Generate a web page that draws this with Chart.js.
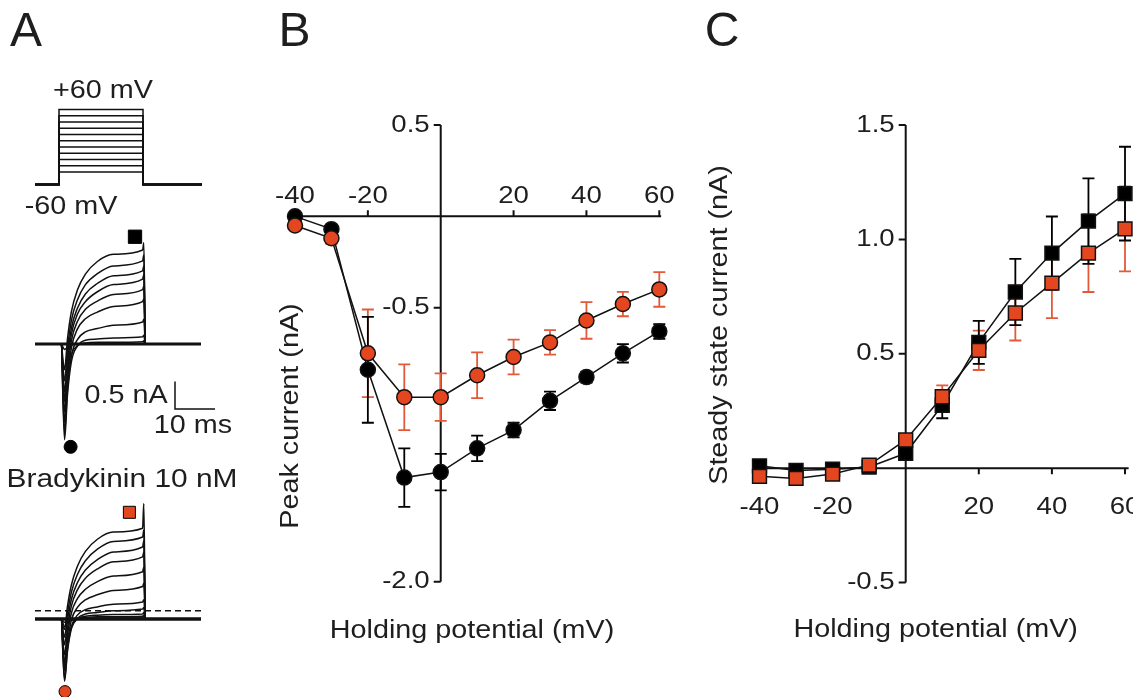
<!DOCTYPE html>
<html>
<head>
<meta charset="utf-8">
<script src="https://cdn.jsdelivr.net/npm/chart.js@4.4.1/dist/chart.umd.min.js"></script>
<style>
  html, body { margin: 0; padding: 0; background: #fff; }
  #wrap { position: relative; width: 1133px; height: 697px; overflow: hidden; }
  canvas { position: absolute; top: 0; }
</style>
</head>
<body>
<div id="wrap">
  <canvas id="chartA" width="250" height="697" style="left:0px"></canvas>
  <canvas id="chartB" width="430" height="697" style="left:270px"></canvas>
  <canvas id="chartC" width="433" height="697" style="left:700px"></canvas>
</div>
<script>
// ---- data ----
const voltages = [-40, -30, -20, -10, 0, 10, 20, 30, 40, 50, 60];

// B : peak current (nA)
const peakControl    = [0.00, -0.07, -0.84, -1.43, -1.40, -1.27, -1.17, -1.01, -0.88, -0.75, -0.63];
const peakControlErr = [0.01, 0.02, 0.29, 0.16, 0.10, 0.07, 0.04, 0.05, 0.03, 0.05, 0.04];
const peakBk         = [-0.05, -0.12, -0.75, -0.99, -0.99, -0.87, -0.77, -0.69, -0.57, -0.48, -0.40];
const peakBkErr      = [0.01, 0.03, 0.24, 0.18, 0.13, 0.125, 0.095, 0.067, 0.10, 0.067, 0.095];

// C : steady state current (nA)
const steadyControl    = [0.01, -0.01, -0.005, 0.005, 0.065, 0.275, 0.55, 0.77, 0.94, 1.08, 1.20];
const steadyControlErr = [0.01, 0.01, 0.01, 0.01, 0.03, 0.057, 0.094, 0.145, 0.16, 0.187, 0.205];
const steadyBk         = [-0.036, -0.045, -0.026, 0.013, 0.123, 0.312, 0.515, 0.678, 0.809, 0.94, 1.046];
const steadyBkErr      = [0.01, 0.01, 0.01, 0.01, 0.02, 0.05, 0.086, 0.12, 0.153, 0.17, 0.186];

// tick labels
const bTicksX = [-40, -20, 20, 40, 60];
const bTicksY = [0.5, -0.5, -2.0];
const cTicksX = [-40, -20, 20, 40, 60];
const cTicksY = [1.5, 1.0, 0.5, -0.5];

// A : voltage protocol (mV) and example traces (ms / nA)
const holdingPotential = -60;
const stepLevels = [-40, -30, -20, -10, 0, 10, 20, 30, 40, 50, 60];
const protocolTimes = [-6, 0, 0, 21, 21, 35.75];
const protocolOnStep = [false, false, true, true, false, false];

const traceTimes = [-6, 0.6, 1.0, 1.4, 2.1, 3.1, 4.6, 6.6, 9.6, 13.6, 20.9, 21.2, 21.6, 35.5];
const ctrlM40 = [0, 0, 0, 0, 0, 0, 0, 0, 0, 0, 0, 0, 0, 0];
const ctrlM30 = [0, 0, -0.06, -0.10, -0.06, -0.02, 0, 0, 0, 0, 0, 0.02, 0, 0];
const ctrlM20 = [0, 0, -0.60, -1.00, -0.55, -0.19, -0.03, 0.02, 0.03, 0.03, 0.04, 0.06, 0, 0];
const ctrlM10 = [0, 0, -1.04, -1.74, -0.94, -0.32, -0.04, 0.07, 0.09, 0.11, 0.13, 0.16, 0, 0];
const ctrl0   = [0, 0, -0.97, -1.61, -0.84, -0.22, 0.08, 0.22, 0.28, 0.34, 0.40, 0.45, 0, 0];
const ctrl10  = [0, 0, -0.86, -1.42, -0.68, -0.07, 0.27, 0.46, 0.58, 0.68, 0.77, 0.82, 0, 0];
const ctrl20  = [0, 0, -0.75, -1.23, -0.53, 0.06, 0.41, 0.63, 0.78, 0.90, 0.99, 1.05, 0, 0];
const ctrl30  = [0, 0, -0.64, -1.05, -0.39, 0.18, 0.54, 0.77, 0.95, 1.08, 1.18, 1.26, 0, 0];
const ctrl40  = [0, 0, -0.53, -0.87, -0.25, 0.29, 0.65, 0.91, 1.10, 1.24, 1.33, 1.42, 0, 0];
const ctrl50  = [0, 0, -0.42, -0.67, -0.10, 0.43, 0.80, 1.08, 1.28, 1.42, 1.51, 1.62, 0, 0];
const ctrl60  = [0, 0, -0.30, -0.47, 0.08, 0.59, 0.98, 1.27, 1.50, 1.63, 1.71, 1.84, 0, 0];

const bkM40 = [0, 0, -0.04, -0.06, -0.03, -0.01, 0.01, 0.01, 0.02, 0.02, 0.02, 0.04, 0, 0];
const bkM30 = [0, 0, -0.08, -0.14, -0.07, -0.02, 0.01, 0.03, 0.04, 0.04, 0.05, 0.07, 0, 0];
const bkM20 = [0, 0, -0.51, -0.84, -0.45, -0.14, 0.00, 0.05, 0.07, 0.08, 0.09, 0.12, 0, 0];
const bkM10 = [0, 0, -0.68, -1.13, -0.60, -0.18, 0.01, 0.09, 0.12, 0.15, 0.18, 0.21, 0, 0];
const bk0   = [0, 0, -0.66, -1.09, -0.56, -0.14, 0.07, 0.17, 0.22, 0.27, 0.31, 0.35, 0, 0];
const bk10  = [0, 0, -0.57, -0.94, -0.44, -0.02, 0.21, 0.35, 0.44, 0.52, 0.59, 0.65, 0, 0];
const bk20  = [0, 0, -0.49, -0.80, -0.31, 0.11, 0.37, 0.54, 0.68, 0.78, 0.86, 0.94, 0, 0];
const bk30  = [0, 0, -0.41, -0.65, -0.18, 0.24, 0.53, 0.74, 0.91, 1.04, 1.13, 1.22, 0, 0];
const bk40  = [0, 0, -0.30, -0.47, -0.04, 0.36, 0.66, 0.89, 1.08, 1.22, 1.31, 1.42, 0, 0];
const bk50  = [0, 0, -0.21, -0.33, 0.09, 0.49, 0.81, 1.06, 1.27, 1.41, 1.49, 1.62, 0, 0];
const bk60  = [0, 0, -0.13, -0.19, 0.22, 0.62, 0.96, 1.23, 1.45, 1.58, 1.65, 2.10, 0, 0];

const ctrlTraces = [ctrlM40, ctrlM30, ctrlM20, ctrlM10, ctrl0, ctrl10, ctrl20, ctrl30, ctrl40, ctrl50, ctrl60];
const bkTraces = [bkM40, bkM30, bkM20, bkM10, bk0, bk10, bk20, bk30, bk40, bk50, bk60];

const baselineTimes = [-6, 35.5];
const dashedLevel = 0.15;
const scaleBarT = [29, 29, 39];
const scaleBarI = [-0.68, -1.18, -1.18];

// markers on the traces: [time ms, current nA]
const ctrlPeakMark = [2.9, -1.87];
const ctrlSteadyMark = [19, 1.95];
const bkPeakMark = [1.5, -1.32];
const bkSteadyMark = [17.6, 1.94];

// ---- styles / helpers ----
const fontFamily = '"Liberation Sans", Arial, Helvetica, sans-serif';
const textColor = '#1e1e1e';
const red = '#e4461f';
const redBar = '#e25a3a';
const ink = '#111';

function drawText(ctx, text, x, y, size, opt) {
  opt = opt || {};
  ctx.save();
  ctx.translate(x, y);
  if (opt.rotate) ctx.rotate(opt.rotate);
  const sx = opt.stretch === undefined ? 1.15 : opt.stretch;
  ctx.scale(sx, 1);
  ctx.font = size + 'px ' + fontFamily;
  ctx.fillStyle = textColor;
  ctx.textAlign = opt.align || 'center';
  ctx.textBaseline = 'middle';
  ctx.fillText(text, 0, 0);
  ctx.restore();
}

function makeLabels(items) {
  return {
    id: 'labelText',
    afterDraw(chart) {
      items.forEach(t => drawText(chart.ctx, t.text, t.x, t.y, t.size, t));
    }
  };
}

// axes crossing at zero
function makeAxes(cfg) {
  return {
    id: 'crossAxes',
    beforeDatasetsDraw(chart) {
      const ctx = chart.ctx, xs = chart.scales.x, ys = chart.scales.y;
      const x0 = xs.getPixelForValue(0), y0 = ys.getPixelForValue(0);
      ctx.save();
      ctx.strokeStyle = ink;
      ctx.lineWidth = 2;
      ctx.beginPath();
      ctx.moveTo(xs.getPixelForValue(cfg.xFrom), y0);
      ctx.lineTo(xs.getPixelForValue(cfg.xTo), y0);
      ctx.moveTo(x0, ys.getPixelForValue(cfg.yFrom));
      ctx.lineTo(x0, ys.getPixelForValue(cfg.yTo));
      cfg.xTicks.forEach(v => {
        const px = xs.getPixelForValue(v);
        ctx.moveTo(px, y0);
        ctx.lineTo(px, y0 + cfg.xTickLen);
      });
      cfg.yTicks.forEach(v => {
        const py = ys.getPixelForValue(v);
        ctx.moveTo(x0, py);
        ctx.lineTo(x0 - 7, py);
      });
      ctx.stroke();
      ctx.restore();
      cfg.xTicks.forEach(v => drawText(ctx, String(v), xs.getPixelForValue(v), y0 + cfg.xLabelOffset, 24));
      cfg.yTicks.forEach(v => drawText(ctx, v.toFixed(1), x0 - 11, ys.getPixelForValue(v), 24, {align: 'right'}));
    }
  };
}

// error bars, drawn under the markers
const errorBars = {
  id: 'errorBars',
  beforeDatasetsDraw(chart) {
    const ctx = chart.ctx, ys = chart.scales.y;
    chart.data.datasets.forEach((ds, i) => {
      if (!ds.errors) return;
      const meta = chart.getDatasetMeta(i);
      ctx.save();
      ctx.strokeStyle = ds.errorColor;
      ctx.lineWidth = 1.8;
      ctx.beginPath();
      meta.data.forEach((pt, j) => {
        const v = ds.data[j].y, e = ds.errors[j];
        const top = ys.getPixelForValue(v + e), bot = ys.getPixelForValue(v - e);
        ctx.moveTo(pt.x, top); ctx.lineTo(pt.x, bot);
        ctx.moveTo(pt.x - 6, top); ctx.lineTo(pt.x + 6, top);
        ctx.moveTo(pt.x - 6, bot); ctx.lineTo(pt.x + 6, bot);
      });
      ctx.stroke();
      ctx.restore();
    });
  }
};

const xy = (xs, ys) => xs.map((x, i) => ({x: x, y: ys[i]}));

const common = {
  responsive: false,
  animation: false,
  events: [],
  plugins: { legend: { display: false }, tooltip: { enabled: false } }
};

// ---- panel A ----
const lineStyle = { borderColor: ink, pointRadius: 0, fill: false, clip: false };
const aDatasets = [];
stepLevels.forEach(v => aDatasets.push({
  ...lineStyle, yAxisID: 'yV', borderWidth: 1.5,
  data: protocolTimes.map((t, i) => ({x: t, y: protocolOnStep[i] ? v : holdingPotential}))
}));
aDatasets.push({ ...lineStyle, yAxisID: 'yTop', borderWidth: 3, data: xy(baselineTimes, [0, 0]) });
aDatasets.push({ ...lineStyle, yAxisID: 'yBot', borderWidth: 3.5, data: xy(baselineTimes, [0, 0]) });
aDatasets.push({ ...lineStyle, yAxisID: 'yBot', borderWidth: 1.3, borderDash: [6, 4],
  data: xy(baselineTimes, [dashedLevel, dashedLevel]) });
ctrlTraces.forEach(arr => aDatasets.push({
  ...lineStyle, yAxisID: 'yTop', borderWidth: 1.5, cubicInterpolationMode: 'monotone', data: xy(traceTimes, arr)
}));
bkTraces.forEach(arr => aDatasets.push({
  ...lineStyle, yAxisID: 'yBot', borderWidth: 1.5, cubicInterpolationMode: 'monotone', data: xy(traceTimes, arr)
}));
aDatasets.push({ ...lineStyle, yAxisID: 'yTop', borderWidth: 1.5, data: xy(scaleBarT, scaleBarI) });
const mark = (p, axis, style, r, color) => ({
  yAxisID: axis, showLine: false, clip: false, data: [{x: p[0], y: p[1]}],
  pointStyle: style, pointRadius: r, pointBackgroundColor: color, pointBorderColor: '#000', pointBorderWidth: 1
});
aDatasets.push(mark(ctrlPeakMark, 'yTop', 'circle', 6.5, '#000'));
aDatasets.push(mark(ctrlSteadyMark, 'yTop', 'rect', 9.4, '#000'));
aDatasets.push(mark(bkPeakMark, 'yBot', 'circle', 6, red));
aDatasets.push(mark(bkSteadyMark, 'yBot', 'rect', 8.5, red));

new Chart(document.getElementById('chartA'), {
  type: 'line',
  data: { datasets: aDatasets },
  options: {
    ...common,
    layout: { padding: 0, autoPadding: false },
    scales: {
      x: { type: 'linear', display: false, min: -14.75, max: 47.75 },
      yV: { type: 'linear', display: false, min: -880, max: 235.2 },
      yTop: { type: 'linear', display: false, min: -6.418, max: 6.2545 },
      yBot: { type: 'linear', display: false, min: -1.418, max: 11.2545 }
    }
  },
  plugins: [makeLabels([
    { text: 'A', x: 26, y: 33, size: 48, stretch: 1 },
    { text: '+60 mV', x: 103, y: 91, size: 25 },
    { text: '-60 mV', x: 71, y: 207, size: 25 },
    { text: '0.5 nA', x: 126, y: 396, size: 25 },
    { text: '10 ms', x: 193, y: 426, size: 25 },
    { text: 'Bradykinin 10 nM', x: 122, y: 480, size: 26 }
  ])]
});

// ---- panel B ----
const circleSet = (vals, errs, fill, barColor, order) => ({
  data: xy(voltages, vals), errors: errs, errorColor: barColor, order: order, clip: false,
  borderColor: ink, borderWidth: 1.5, pointStyle: 'circle', pointRadius: 7.5,
  pointBackgroundColor: fill, pointBorderColor: ink, pointBorderWidth: 1.5
});

new Chart(document.getElementById('chartB'), {
  type: 'line',
  data: { datasets: [
    circleSet(peakBk, peakBkErr, red, redBar, 0),
    circleSet(peakControl, peakControlErr, '#000', '#000', 1)
  ] },
  options: {
    ...common,
    layout: { padding: { left: 25, right: 40.7, top: 125, bottom: 115.3 }, autoPadding: false },
    scales: {
      x: { type: 'linear', display: false, min: -40, max: 60 },
      y: { type: 'linear', display: false, min: -2.0, max: 0.5 }
    }
  },
  plugins: [
    makeAxes({ xFrom: -40, xTo: 60.5, yFrom: 0.5, yTo: -2.0, xTicks: bTicksX, yTicks: bTicksY,
      xTickLen: -6, xLabelOffset: -20 }),
    errorBars,
    makeLabels([
      { text: 'B', x: 24.5, y: 33, size: 48, stretch: 1 },
      { text: 'Peak current (nA)', x: 21, y: 416, size: 25, rotate: -Math.PI / 2 },
      { text: 'Holding potential (mV)', x: 202, y: 631, size: 25 }
    ])
  ]
});

// ---- panel C ----
const squareSet = (vals, errs, fill, barColor, order) => ({
  data: xy(voltages, vals), errors: errs, errorColor: barColor, order: order, clip: false,
  borderColor: ink, borderWidth: 1.5, pointStyle: 'rect', pointRadius: 9.8,
  pointBackgroundColor: fill, pointBorderColor: ink, pointBorderWidth: 1.5
});

new Chart(document.getElementById('chartC'), {
  type: 'line',
  data: { datasets: [
    squareSet(steadyBk, steadyBkErr, red, redBar, 0),
    squareSet(steadyControl, steadyControlErr, '#000', '#000', 1)
  ] },
  options: {
    ...common,
    layout: { padding: { left: 59.5, right: 8, top: 125, bottom: 114.5 }, autoPadding: false },
    scales: {
      x: { type: 'linear', display: false, min: -40, max: 60 },
      y: { type: 'linear', display: false, min: -0.5, max: 1.5 }
    }
  },
  plugins: [
    makeAxes({ xFrom: -42, xTo: 61, yFrom: 1.5, yTo: -0.5, xTicks: cTicksX, yTicks: cTicksY,
      xTickLen: 6, xLabelOffset: 39 }),
    errorBars,
    makeLabels([
      { text: 'C', x: 22, y: 33, size: 48, stretch: 1 },
      { text: 'Steady state current (nA)', x: 20, y: 325, size: 25, rotate: -Math.PI / 2 },
      { text: 'Holding potential (mV)', x: 235.7, y: 630, size: 25 }
    ])
  ]
});
</script>
</body>
</html>
